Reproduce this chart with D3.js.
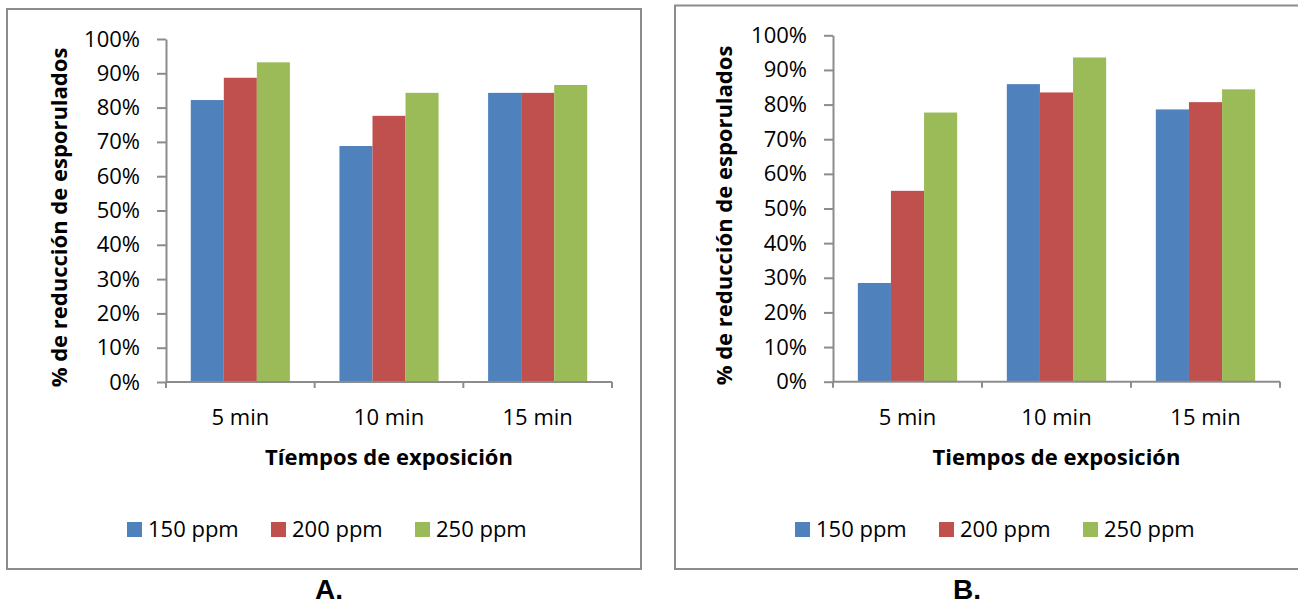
<!DOCTYPE html>
<head>
  <meta charset="utf-8">
  <script src="https://d3js.org/d3.v7.min.js"></script>
  <style>
    body { margin: 0; background: #fff; font-family: "Open Sans", sans-serif; }
    .tick line, .domain { stroke: #8c8c8c; stroke-width: 2px; }
  </style>
</head>
<body>
  <script>
    var categories = ["5 min", "10 min", "15 min"];
    var series = ["150 ppm", "200 ppm", "250 ppm"];
    var colors = ["#4f81bd", "#c0504d", "#9bbb59"];
    var yTicks = [0, 0.1, 0.2, 0.3, 0.4, 0.5, 0.6, 0.7, 0.8, 0.9, 1];

    // values per category, in series order
    var valuesA = [
      [0.822, 0.887, 0.932],
      [0.688, 0.776, 0.843],
      [0.843, 0.843, 0.866]
    ];
    var valuesB = [
      [0.285, 0.551, 0.777],
      [0.859, 0.835, 0.936],
      [0.786, 0.807, 0.844]
    ];

    var svg = d3.select("body").append("svg")
      .attr("width", 1298)
      .attr("height", 604);

    function panel(cfg) {
      var g = svg.append("g");

      // outer frame
      g.append("rect")
        .attr("x", cfg.frame[0]).attr("y", cfg.frame[1])
        .attr("width", cfg.frame[2]).attr("height", cfg.frame[3])
        .style("fill", "none").style("stroke", "#8c8c8c").style("stroke-width", 2);

      var y = d3.scaleLinear().domain([0, 1]).range([cfg.bottom, cfg.top]);
      var x = d3.scaleBand().domain(categories).range([cfg.left, cfg.right]);
      var x1 = d3.scaleBand().domain(series).range([0, x.bandwidth()]).paddingOuter(0.75);

      var groups = g.selectAll(".grp")
        .data(categories)
        .enter().append("g")
        .attr("transform", function(d) { return "translate(" + x(d) + ",0)"; });

      groups.selectAll("rect")
        .data(function(d, i) {
          return cfg.values[i].map(function(v, j) { return { s: series[j], v: v, c: colors[j] }; });
        })
        .enter().append("rect")
        .attr("x", function(d) { return x1(d.s); })
        .attr("width", x1.bandwidth())
        .attr("y", function(d) { return y(d.v); })
        .attr("height", function(d) { return cfg.bottom - y(d.v); })
        .style("fill", function(d) { return d.c; });

      // y axis
      var ya = g.append("g")
        .attr("transform", "translate(" + cfg.left + ",0)")
        .call(d3.axisLeft(y).tickValues(yTicks).tickFormat(d3.format(".0%"))
          .tickSize(9).tickSizeOuter(0).tickPadding(17));
      ya.selectAll("text").style("font-size", "22px").style("font-family", "Open Sans").style("fill", "#000");

      // x axis, ticks between categories
      var xa = g.append("g")
        .attr("transform", "translate(0," + cfg.bottom + ")");
      xa.append("line")
        .attr("class", "domain")
        .attr("x1", cfg.left).attr("x2", cfg.right);
      xa.selectAll(".xt")
        .data(categories.concat(["end"]))
        .enter().append("line")
        .attr("class", "domain")
        .attr("x1", function(d, i) { return i < categories.length ? x(d) : cfg.right; })
        .attr("x2", function(d, i) { return i < categories.length ? x(d) : cfg.right; })
        .attr("y1", 0).attr("y2", 6);
      xa.selectAll(".xl")
        .data(categories)
        .enter().append("text")
        .attr("x", function(d) { return x(d) + x.bandwidth() / 2; })
        .attr("y", 43)
        .attr("text-anchor", "middle")
        .style("font-size", "22px")
        .text(function(d) { return d; });

      // axis titles
      g.append("text")
        .attr("x", (cfg.left + cfg.right) / 2)
        .attr("y", 465)
        .attr("text-anchor", "middle")
        .style("font-size", "22px").style("font-weight", "bold")
        .text(cfg.xTitle);

      g.append("text")
        .attr("transform", "translate(" + cfg.yTitleX + "," + ((cfg.top + cfg.bottom) / 2 + 7) + ") rotate(-90)")
        .attr("text-anchor", "middle")
        .style("font-size", "22px").style("font-weight", "bold")
        .text("% de reducción de esporulados");

      // legend
      var leg = g.selectAll(".leg")
        .data(series)
        .enter().append("g")
        .attr("transform", function(d, i) { return "translate(" + (cfg.legendX + i * 144) + ",522)"; });
      leg.append("rect")
        .attr("width", 15).attr("height", 15)
        .style("fill", function(d, i) { return colors[i]; });
      leg.append("text")
        .attr("x", 21).attr("y", 15)
        .style("font-size", "22px")
        .text(function(d) { return d; });

      // panel label
      svg.append("text")
        .attr("x", cfg.labelX).attr("y", 599)
        .attr("text-anchor", "middle")
        .style("font-family", "Liberation Sans, Arial, sans-serif")
        .style("font-size", "28px").style("font-weight", "bold")
        .text(cfg.label);
    }

    panel({
      frame: [7, 9, 634, 560],
      left: 166, right: 612, top: 39, bottom: 382,
      values: valuesA,
      xTitle: "Tíempos de exposición",
      yTitleX: 67,
      legendX: 127,
      labelX: 329,
      label: "A."
    });

    panel({
      frame: [675, 5.5, 700, 563.5],
      left: 833, right: 1280, top: 35.3, bottom: 381.7,
      values: valuesB,
      xTitle: "Tiempos de exposición",
      yTitleX: 732,
      legendX: 795,
      labelX: 967,
      label: "B."
    });
  </script>
</body>
